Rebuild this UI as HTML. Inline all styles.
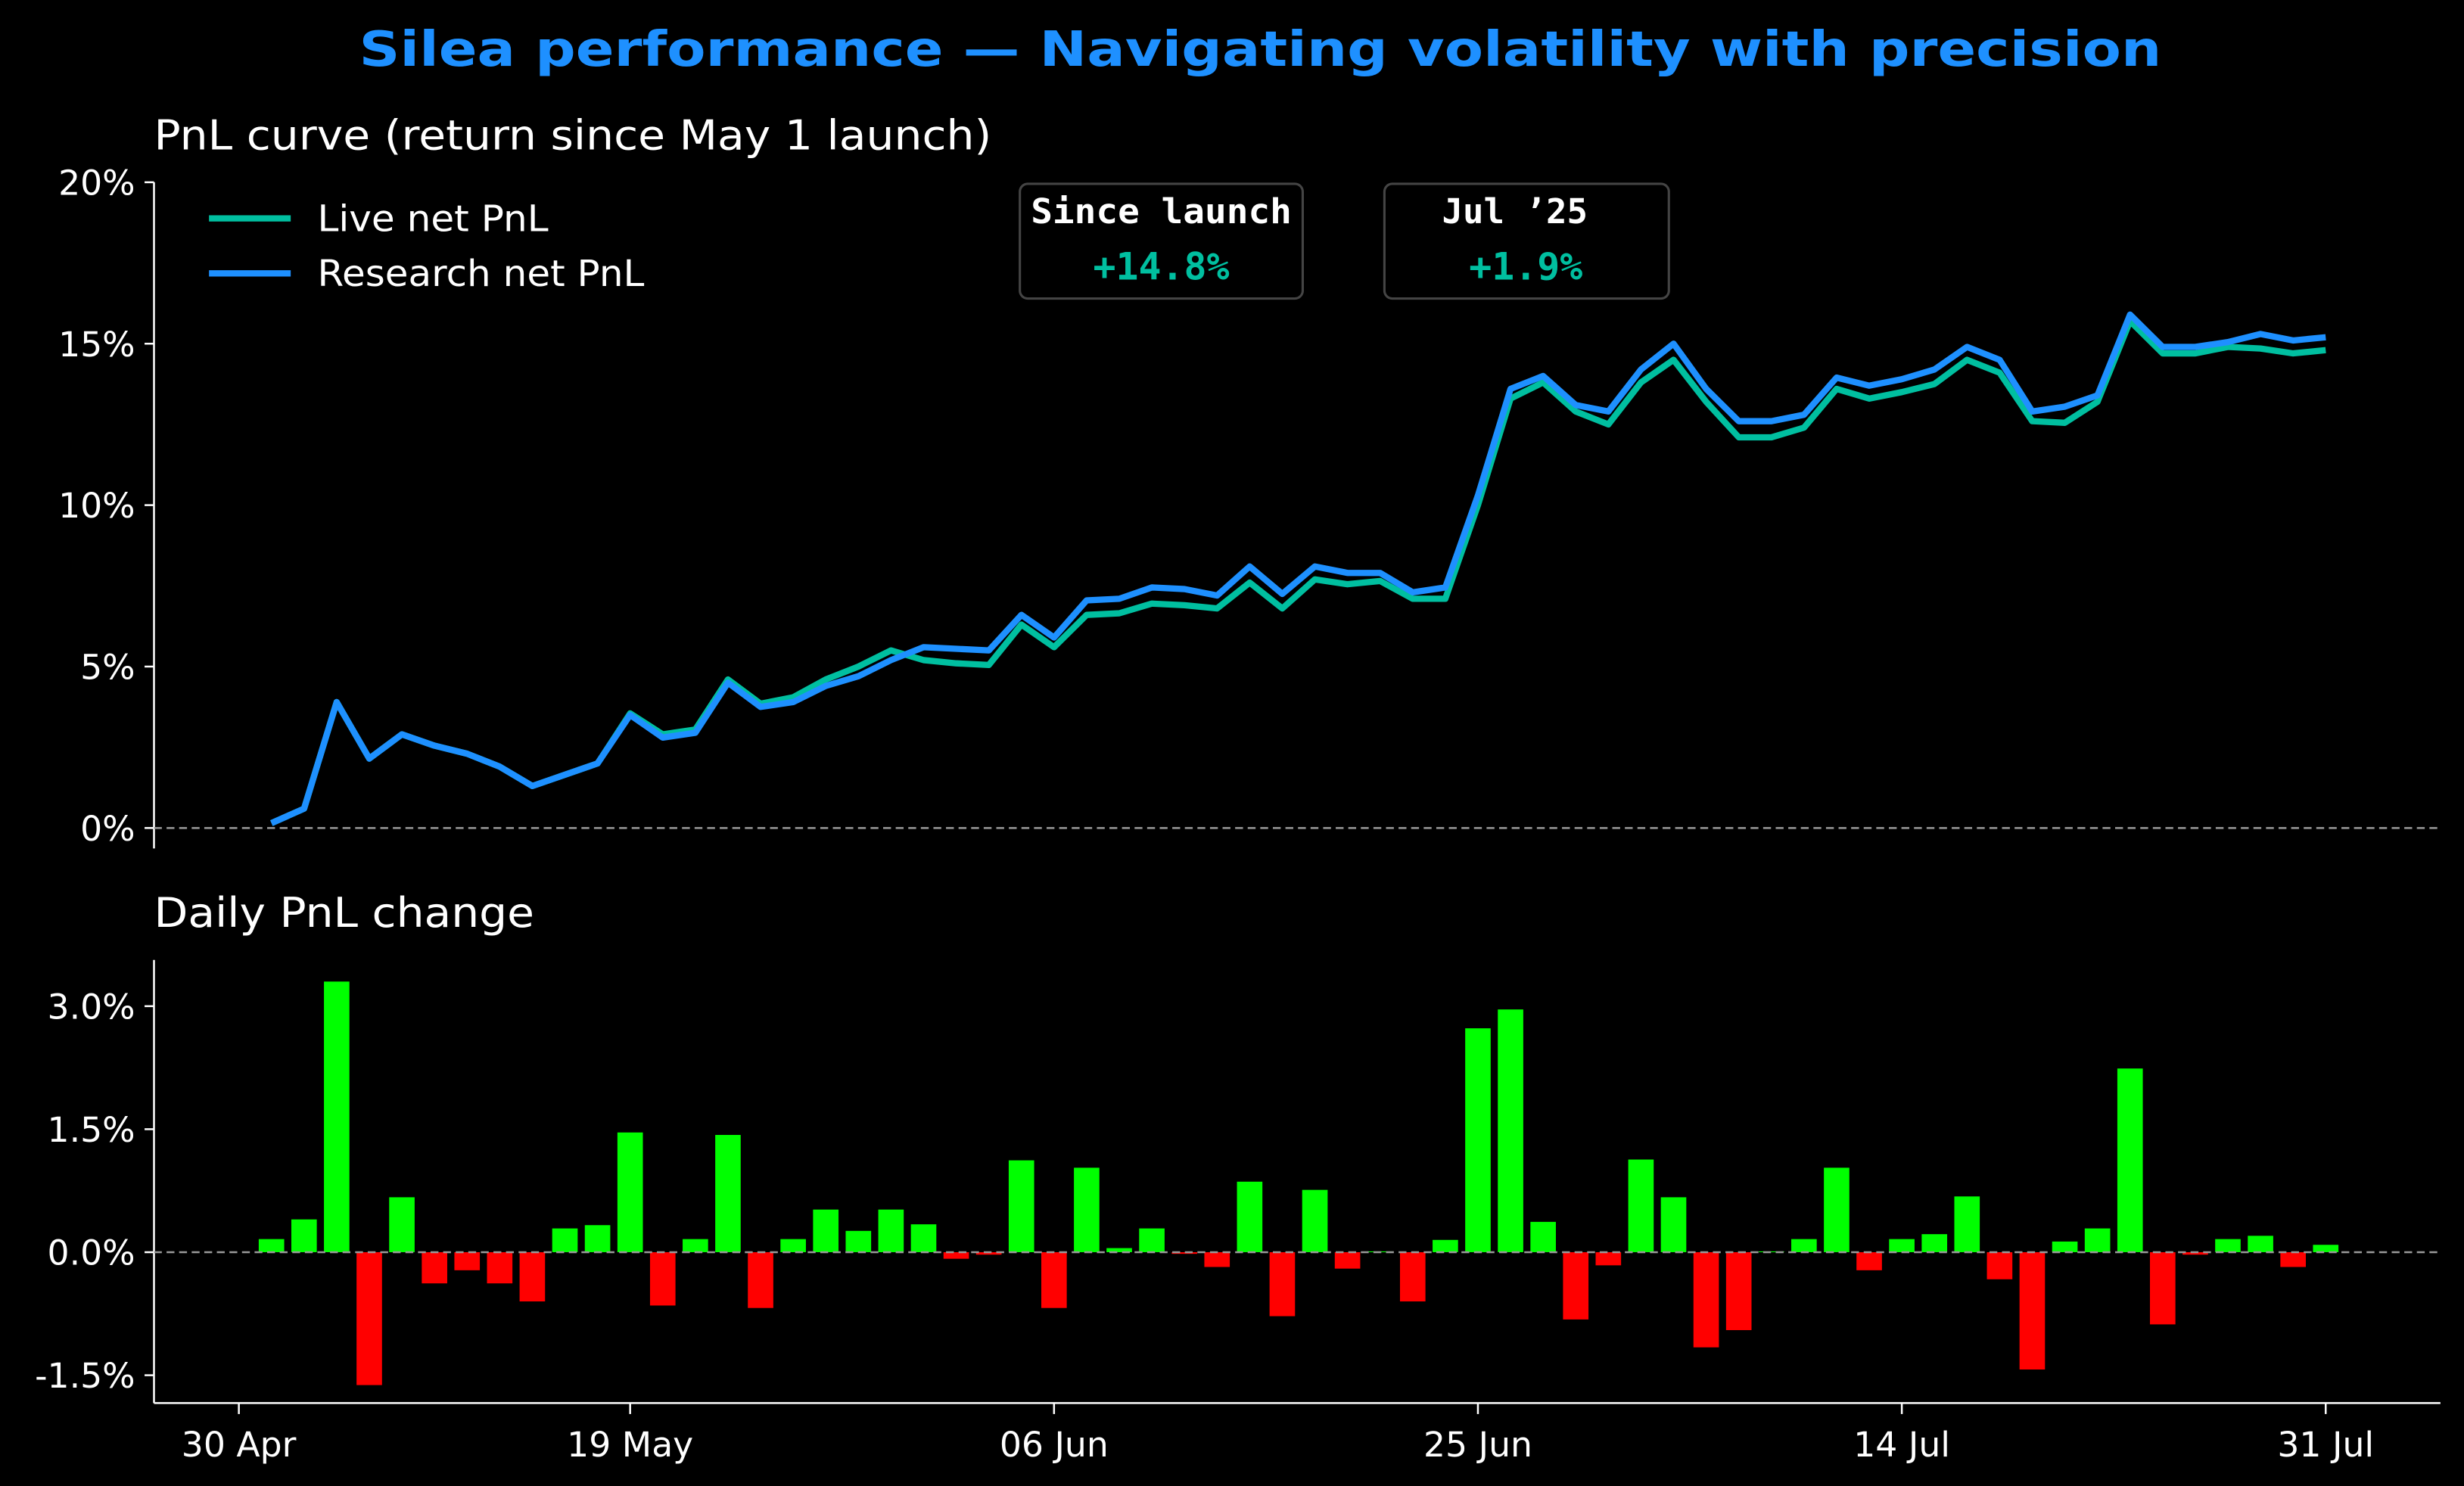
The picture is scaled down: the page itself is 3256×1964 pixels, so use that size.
<!DOCTYPE html>
<html><head><meta charset="utf-8"><style>
html,body{margin:0;padding:0;background:#000;}
svg{display:block;}
text{font-family:"DejaVu Sans","Liberation Sans",sans-serif;}
.mono{font-family:"DejaVu Sans Mono","Liberation Mono",monospace;font-weight:bold;}
</style></head><body>
<svg id="chart" xmlns="http://www.w3.org/2000/svg" width="3256" height="1964" viewBox="0 0 1568 945.8">
<rect width="1568" height="945.8" fill="#000"/>
<text x="802" y="42" text-anchor="middle" fill="#1E90FF" font-weight="bold" font-size="31" textLength="1147" lengthAdjust="spacingAndGlyphs">Silea performance — Navigating volatility with precision</text>
<text x="98" y="95" fill="#fff" font-size="26" textLength="533" lengthAdjust="spacingAndGlyphs">PnL curve (return since May 1 launch)</text>
<text x="98" y="590" fill="#fff" font-size="26" textLength="242" lengthAdjust="spacingAndGlyphs">Daily PnL change</text>
<g id="topPanel"></g>
<g id="botPanel"></g>
<g>
<line x1="133" y1="139" x2="185" y2="139" stroke="#00BFA0" stroke-width="4"/>
<text x="202" y="147" fill="#fff" font-size="23" textLength="147" lengthAdjust="spacingAndGlyphs">Live net PnL</text>
<line x1="133" y1="174" x2="185" y2="174" stroke="#1E90FF" stroke-width="4"/>
<text x="202" y="182" fill="#fff" font-size="23" textLength="208" lengthAdjust="spacingAndGlyphs">Research net PnL</text>
</g>
<g>
<rect x="649" y="117" width="180" height="73" rx="5" fill="#000" stroke="#444" stroke-width="1.5"/>
<text class="mono" x="739" y="142" text-anchor="middle" fill="#fff" font-size="22" textLength="166" lengthAdjust="spacingAndGlyphs">Since launch</text>
<text class="mono" x="739" y="178" text-anchor="middle" fill="#00BFA0" font-size="24">+14.8%</text>
</g>
<g>
<rect x="881" y="117" width="181" height="73" rx="5" fill="#000" stroke="#444" stroke-width="1.5"/>
<text class="mono" x="964" y="142" text-anchor="middle" fill="#fff" font-size="22">Jul ’25</text>
<text class="mono" x="971" y="178" text-anchor="middle" fill="#00BFA0" font-size="24">+1.9%</text>
</g>
</svg>
<script>
const xTickIdx = [0, 12, 25, 38, 51, 64];
const xTickLabels = ["30 Apr", "19 May", "06 Jun", "25 Jun", "14 Jul", "31 Jul"];
const researchPnl = [0.15,0.6,3.9,2.15,2.9,2.55,2.3,1.9,1.3,1.65,2.0,3.5,2.8,2.95,4.5,3.75,3.9,4.4,4.7,5.2,5.6,5.55,5.5,6.6,5.9,7.05,7.1,7.45,7.4,7.2,8.1,7.25,8.1,7.9,7.9,7.3,7.45,10.3,13.6,14.0,13.1,12.9,14.2,15.0,13.6,12.6,12.6,12.8,13.95,13.7,13.9,14.2,14.9,14.5,12.9,13.05,13.4,15.9,14.9,14.9,15.05,15.3,15.1,15.2];
const livePnl = [0.15,0.6,3.9,2.15,2.9,2.55,2.3,1.9,1.3,1.65,2.0,3.55,2.9,3.05,4.6,3.85,4.05,4.6,5.0,5.5,5.2,5.1,5.05,6.3,5.6,6.6,6.65,6.95,6.9,6.8,7.6,6.8,7.7,7.55,7.65,7.1,7.1,10.0,13.3,13.8,12.9,12.5,13.8,14.5,13.2,12.1,12.1,12.4,13.6,13.3,13.5,13.75,14.5,14.1,12.6,12.55,13.2,15.7,14.7,14.7,14.9,14.85,14.7,14.8];
const dailyChange = [0.16,0.40,3.30,-1.62,0.67,-0.38,-0.22,-0.38,-0.60,0.29,0.33,1.46,-0.65,0.16,1.43,-0.68,0.16,0.52,0.26,0.52,0.34,-0.08,-0.03,1.12,-0.68,1.03,0.05,0.29,-0.02,-0.18,0.86,-0.78,0.76,-0.20,0.01,-0.60,0.15,2.73,2.96,0.37,-0.82,-0.16,1.13,0.67,-1.16,-0.95,0.01,0.16,1.03,-0.22,0.16,0.22,0.68,-0.33,-1.43,0.13,0.29,2.24,-0.88,-0.03,0.16,0.20,-0.18,0.09];
const topTicks = [0,5,10,15,20];
const botTicks = [-1.5,0,1.5,3.0];

const NS="http://www.w3.org/2000/svg";
function mk(tag, attrs, parent){const e=document.createElementNS(NS,tag);for(const k in attrs)e.setAttribute(k,attrs[k]);parent.appendChild(e);return e;}
const xS = i => 152 + i*20.75;
const yTop = v => 527 - v*20.55;
const yBot = v => 797 - v*52.2;
const topG=document.getElementById('topPanel'), botG=document.getElementById('botPanel');

let ax=mk('line',{x1:98,y1:116,x2:98,y2:540,stroke:'#fff','stroke-width':1.2},topG);


topTicks.forEach(t=>{
  const y=yTop(t);
  const tk=mk('line',{x1:92,y1:y,x2:98,y2:y,stroke:'#fff','stroke-width':1.2},topG);
  
  
  const tx=mk('text',{x:86,y:y+8,'text-anchor':'end',fill:'#fff','font-size':22},topG);
  tx.textContent=t+'%';
  
  
});
let z=mk('line',{x1:98,y1:yTop(0),x2:1553,y2:yTop(0),stroke:'#999','stroke-width':1.2,'stroke-dasharray':'5 3'},topG);


function line(data,color,name){
  const p=mk('polyline',{points:data.map((v,i)=>xS(i+1)+','+yTop(v)).join(' '),fill:'none',stroke:color,'stroke-width':4,'stroke-linejoin':'round'},topG);
  
  
}
line(livePnl,'#00BFA0','live-pnl-line');
line(researchPnl,'#1E90FF','research-pnl-line');

let ay=mk('line',{x1:98,y1:611,x2:98,y2:893,stroke:'#fff','stroke-width':1.2},botG);


let axx=mk('line',{x1:98,y1:893,x2:1553,y2:893,stroke:'#fff','stroke-width':1.2},botG);


botTicks.forEach(t=>{
  const y=yBot(t);
  const tk=mk('line',{x1:92,y1:y,x2:98,y2:y,stroke:'#fff','stroke-width':1.2},botG);
  
  
  const tx=mk('text',{x:86,y:y+8,'text-anchor':'end',fill:'#fff','font-size':22},botG);
  tx.textContent=t.toFixed(1)+'%';
  
  
});
dailyChange.forEach((v,i)=>{
  const x=xS(i+1), y0=yBot(0), y1=yBot(v);
  const r=mk('rect',{x:x-8.1,y:Math.min(y0,y1),width:16.2,height:Math.max(Math.abs(y1-y0),0.5),fill:v>=0?'#00FF00':'#FF0000'},botG);
  
  
});
let z2=mk('line',{x1:98,y1:yBot(0),x2:1553,y2:yBot(0),stroke:'#999','stroke-width':1.2,'stroke-dasharray':'5 3'},botG);


xTickIdx.forEach((idx,k)=>{
  const x=xS(idx);
  const tk=mk('line',{x1:x,y1:893,x2:x,y2:900,stroke:'#fff','stroke-width':1.2},botG);
  
  
  const tx=mk('text',{x:x,y:927,'text-anchor':'middle',fill:'#fff','font-size':22},botG);
  tx.textContent=xTickLabels[k];
  
  
});
</script>
</body></html>
